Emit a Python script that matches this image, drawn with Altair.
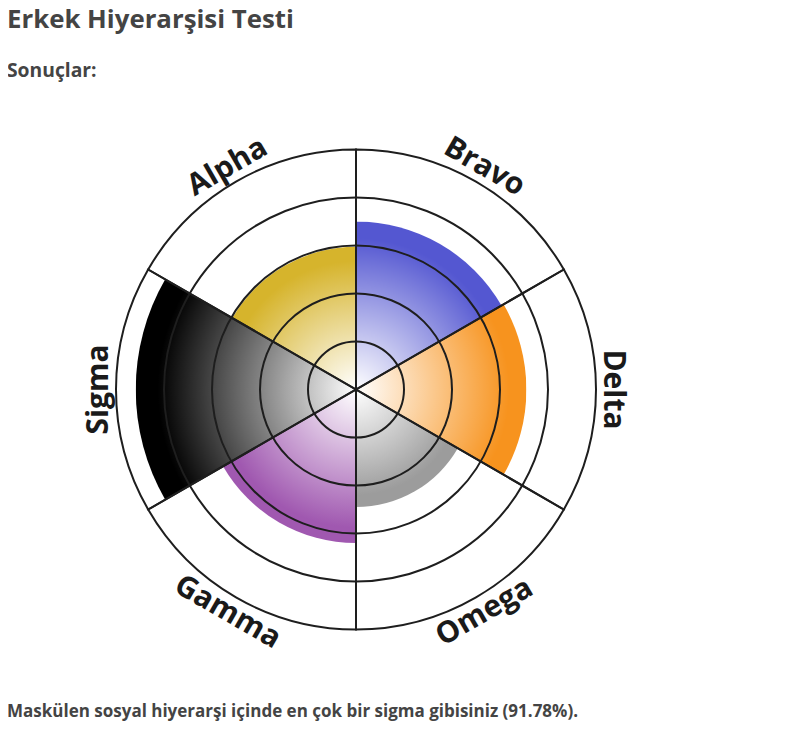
import math
import altair as alt
import pandas as pd

# ---- data ----
categories = ["Bravo", "Delta", "Omega", "Gamma", "Sigma", "Alpha"]
scores = [70.0, 71.0, 49.0, 64.0, 91.78, 59.5]
edge_colors = ["#5457d1", "#f7931e", "#9c9c9c", "#a058b0", "#000000", "#d6b42c"]
ring_levels = [20, 40, 60, 80]
title_text = "Erkek Hiyerarşisi Testi"
subtitle_text = "Sonuçlar:"
footer_text = "Maskülen sosyal hiyerarşi içinde en çok bir sigma gibisiniz (91.78%)."

n = len(categories)
df = pd.DataFrame({
    "cat": categories,
    "score": scores,
    "a0": list(range(n)),
    "a1": [i + 1 for i in range(n)],
    "mid": [i + 0.5 for i in range(n)],
})
# text rotation, readable orientation
rots = []
for i in range(n):
    m = 360.0 * (i + 0.5) / n
    r = m if (m <= 90 or m >= 270) else m - 180
    rots.append(r % 360)
df["rot"] = rots

theta_scale = alt.Scale(domain=[0, n], range=[0, 2 * math.pi])
radius_scale = alt.Scale(type="linear", domain=[0, 100], range=[0, 240], zero=True)


def grad_center(i):
    a0 = 2 * math.pi * i / n
    a1 = 2 * math.pi * (i + 1) / n
    angs = [a0, a1] + [k * math.pi / 2 for k in range(5) if a0 < k * math.pi / 2 < a1]
    xs = [0.0] + [math.sin(a) for a in angs]
    ys = [0.0] + [-math.cos(a) for a in angs]
    xmin, xmax, ymin, ymax = min(xs), max(xs), min(ys), max(ys)
    w, h = xmax - xmin, ymax - ymin
    s = max(w, h)
    u = (-xmin - (w - s) / 2) / s
    v = (-ymin - (h - s) / 2) / s
    return u, v, 1.0 / s


layers = []
for i, (cat, col) in enumerate(zip(categories, edge_colors)):
    u, v, rr = grad_center(i)
    grad = {
        "gradient": "radial",
        "x1": u, "y1": v, "r1": 0,
        "x2": u, "y2": v, "r2": rr,
        "stops": [
            {"offset": 0, "color": "#ffffff"},
            {"offset": 0.9, "color": col},
            {"offset": 1, "color": col},
        ],
    }
    layers.append(
        alt.Chart(df)
        .transform_filter(alt.datum.cat == cat)
        .mark_arc(color=grad, strokeWidth=0)
        .encode(
            theta=alt.Theta("a0:Q", stack=None, scale=theta_scale),
            theta2="a1:Q",
            radius=alt.Radius("score:Q", stack=None, scale=radius_scale),
        )
    )

rings_df = pd.DataFrame({"lvl": ring_levels})
rings = alt.Chart(rings_df).mark_arc(
    theta=0, theta2=2 * math.pi, fillOpacity=0, stroke="#1e1e1e", strokeWidth=2
).encode(radius=alt.Radius("lvl:Q", stack=None, scale=radius_scale))

outline = alt.Chart(df).mark_arc(
    fillOpacity=0, stroke="#1e1e1e", strokeWidth=2
).encode(
    theta=alt.Theta("a0:Q", stack=None, scale=theta_scale),
    theta2="a1:Q",
    radius=alt.datum(100),
)

labels = alt.Chart(df).mark_text(
    font="Open Sans", fontWeight="bold", fontSize=30, color="#1a1a1a",
    align="center", baseline="middle",
).encode(
    theta=alt.Theta("mid:Q", stack=None, scale=theta_scale),
    radius=alt.value(257),
    angle=alt.Angle("rot:Q", scale=None),
    text="cat:N",
)

def text_layer(txt, size, x, y):
    return alt.Chart(pd.DataFrame({"t": [txt]})).mark_text(
        font="Open Sans", fontWeight="bold", fontSize=size, color="#444444",
        align="left", baseline="alphabetic",
    ).encode(text="t:N", x=alt.value(x), y=alt.value(y))

title = text_layer(title_text, 25.8, -69, -81.2)
subtitle = text_layer(subtitle_text, 19.3, -69, -32.3)
footer = text_layer(footer_text, 17, -69, 607.5)

chart = alt.layer(*layers, rings, outline, labels, title, subtitle, footer).properties(
    width=560, height=560,
    padding={"left": 68, "top": 101.5, "right": 140, "bottom": 60},
    autosize=alt.AutoSizeParams(type="none"),
    background="white",
).configure_view(strokeOpacity=0)

chart.save("out.html", embed_options={"renderer": "svg", "actions": False})
